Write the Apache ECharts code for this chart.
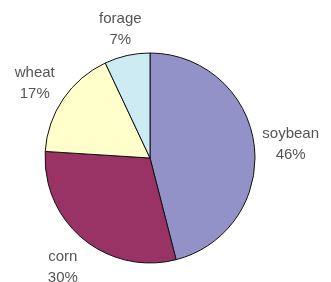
<!DOCTYPE html>
<html>
<head>
<meta charset="utf-8">
<script src="https://cdn.jsdelivr.net/npm/echarts@6/dist/echarts.min.js"></script>
<style>
    html, body { margin: 0; padding: 0; background: #fff; }
    #cropPie { width: 331px; height: 282px; }
</style>
</head>
<body>
<div id="cropPie"></div>
<script>
// crop shares, clockwise from 12 o'clock
var categories = ['soybean', 'corn', 'wheat', 'forage'];
var shares = [46, 30, 17, 7];

var sliceColors = ['#9292c8', '#993366', '#ffffcc', '#cdebf2'];
var CX = 150, CY = 158, R = 105, GAP = 6;

function placeLabel(p) {
    var total = shares.reduce(function (a, b) { return a + b; }, 0);
    var before = 0;
    for (var k = 0; k < p.dataIndex; k++) before += shares[k];
    var mid = (before + shares[p.dataIndex] / 2) / total * Math.PI * 2;
    var sx = Math.sin(mid), sy = -Math.cos(mid);
    var w = p.labelRect.width, h = p.labelRect.height;
    var d = R + GAP + Math.abs(sx) * w / 2 + Math.abs(sy) * h / 2;
    return { x: CX + sx * d, y: CY + sy * d + 4, align: 'center', verticalAlign: 'middle' };
}

var chart = echarts.init(document.getElementById('cropPie'));
chart.setOption({
    animation: false,
    series: [{
        type: 'pie',
        center: [CX, CY],
        radius: R,
        startAngle: 90,
        clockwise: true,
        avoidLabelOverlap: false,
        itemStyle: { borderColor: '#111', borderWidth: 1 },
        label: {
            show: true,
            position: 'outside',
            formatter: '{b}\n{d}%',
            fontFamily: 'Arial, "Liberation Sans", sans-serif',
            fontSize: 15,
            lineHeight: 21,
            color: '#555'
        },
        labelLine: { show: false },
        labelLayout: placeLabel,
        emphasis: { disabled: true },
        data: categories.map(function (c, i) {
            return { name: c, value: shares[i], itemStyle: { color: sliceColors[i] } };
        })
    }]
});
</script>
</body>
</html>
